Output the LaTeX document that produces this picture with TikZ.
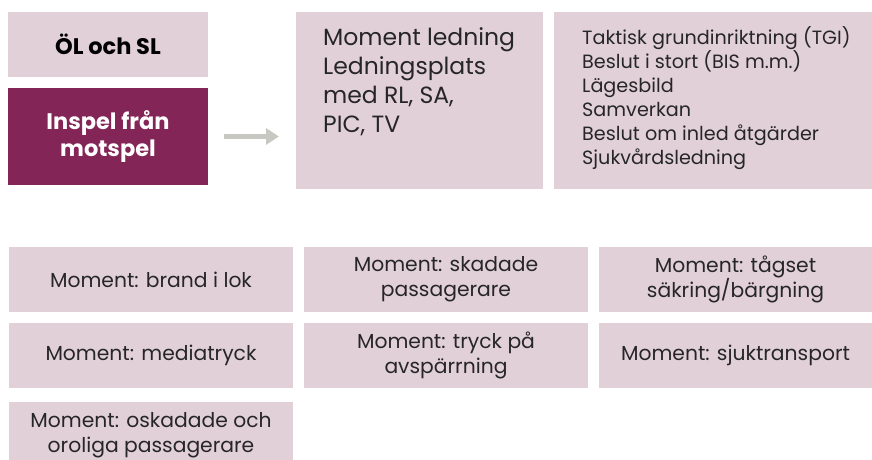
\documentclass[tikz,border=0pt]{standalone}
\usepackage{fontspec}
\setmainfont{Poppins}
\usetikzlibrary{arrows.meta,calc}
\definecolor{lightp}{HTML}{E2D0D9}
\definecolor{darkp}{HTML}{832556}
\definecolor{arrowg}{HTML}{C8C8C2}
\begin{document}
\begin{tikzpicture}[x=1pt,y=-1pt,
  box/.style={fill=lightp, draw=none, inner sep=0pt, outer sep=0pt, anchor=north west},
  darkbox/.style={fill=darkp, draw=none, inner sep=0pt, outer sep=0pt, anchor=north west, text=white},
  boldtxt/.style={font=\fontsize{22.5}{27}\selectfont\bfseries, align=center},
  midtxt/.style={font=\fontsize{20.3}{25}\selectfont, align=center, text=black!85},
  toptxt/.style={anchor=north west, inner sep=0pt, align=left, text=black!85}]
\useasboundingbox (0,0) rectangle (872,460);
% top-left boxes
\node[box, minimum width=200pt, minimum height=65pt, boldtxt] (oel) at (8,12) {ÖL och SL};
\node[darkbox, minimum width=200pt, minimum height=97pt, boldtxt] (inspel) at (8,88) {Inspel från\\motspel};
% top right boxes
\node[box, minimum width=247pt, minimum height=177pt] (ledning) at (296,12) {};
\node[box, minimum width=318pt, minimum height=177pt] (tgi) at (554,12) {};
\node[toptxt, font=\fontsize{23.5}{29.3}\selectfont] (ledtxt) at ($(ledning.north west)+(27,15)$)
  {Moment ledning\\Ledningsplats\\med RL, SA,\\PIC, TV};
\node[toptxt, font=\fontsize{19.2}{24}\selectfont] (tgitxt) at ($(tgi.north west)+(28,14)$)
  {Taktisk grundinriktning (TGI)\\Beslut i stort (BIS m.m.)\\Lägesbild\\Samverkan\\Beslut om inled åtgärder\\Sjukvårdsledning};
% arrow
\draw[arrowg, line width=5.5pt, shorten <=16pt, shorten >=17pt, -{Triangle[length=13pt,width=16pt]}]
  (inspel.east) -- (inspel.east -| ledning.west);
% bottom grid
\node[box, minimum width=284pt, minimum height=65pt, midtxt] (m1) at (9,247) {Moment: brand i lok};
\node[box, minimum width=284pt, minimum height=65pt, midtxt] (m2) at (304,247) {Moment: skadade\\passagerare};
\node[box, minimum width=273pt, minimum height=65pt, midtxt] (m3) at (599,247) {Moment: tågset\\säkring/bärgning};
\node[box, minimum width=284pt, minimum height=65pt, midtxt] (m4) at (9,323) {Moment: mediatryck};
\node[box, minimum width=284pt, minimum height=65pt, midtxt] (m5) at (304,323) {Moment: tryck på\\avspärrning};
\node[box, minimum width=273pt, minimum height=65pt, midtxt] (m6) at (599,323) {Moment: sjuktransport};
\node[box, minimum width=284pt, minimum height=58pt, midtxt, anchor=north west] (m7) at (9,402) {};
\node[midtxt, anchor=north, inner sep=0pt] (m7txt) at ($(m7.north)+(0,10)$) {Moment: oskadade och\\oroliga passagerare};
\end{tikzpicture}
\end{document}
